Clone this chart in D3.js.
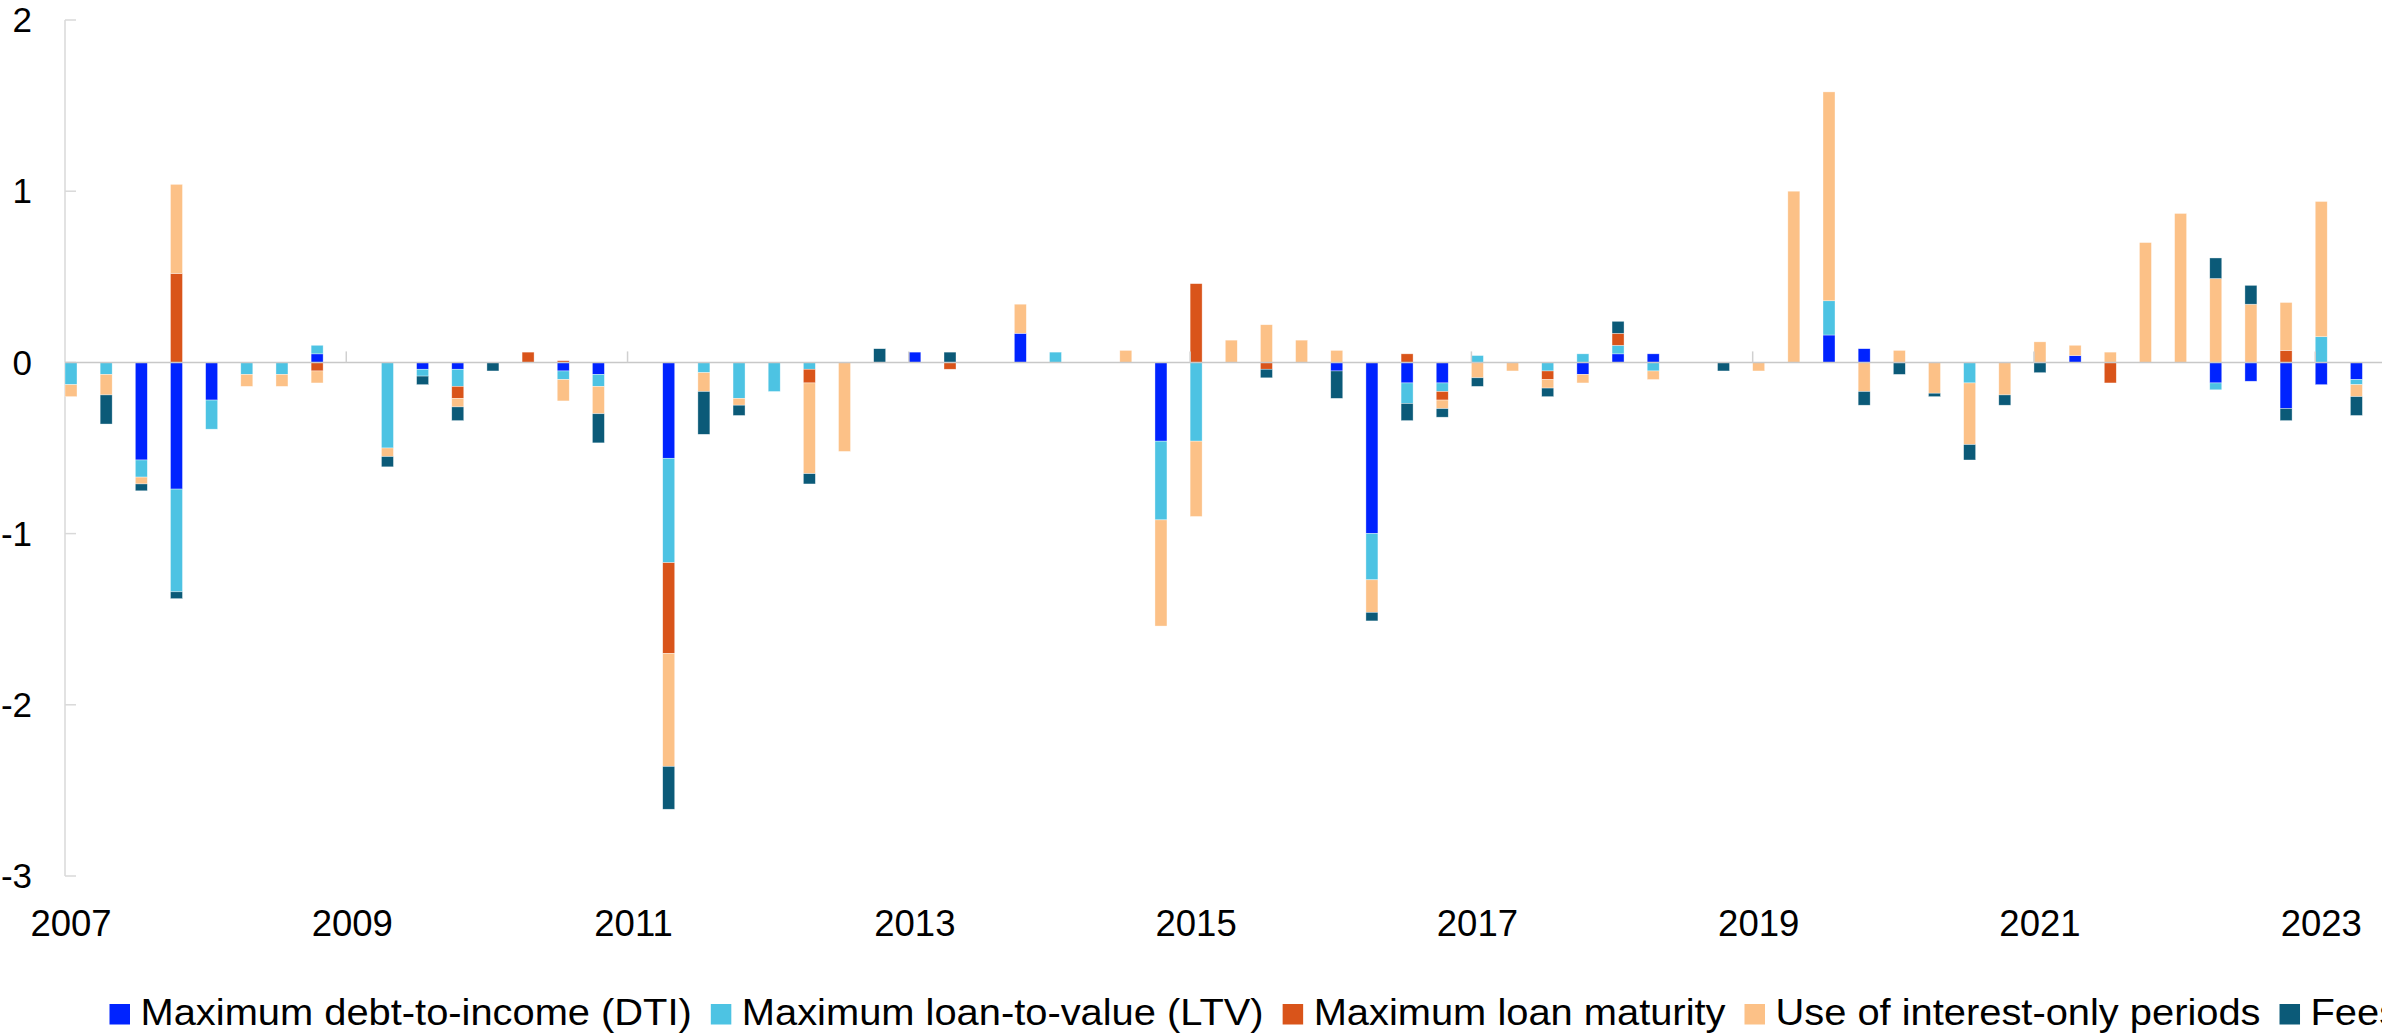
<!DOCTYPE html>
<html>
<head>
<meta charset="utf-8">
<script src="https://cdn.jsdelivr.net/npm/d3@7"></script>
<style>
  body { margin: 0; background: #fff; }
  svg { display: block; font-family: "Liberation Sans", Arial, sans-serif; }
</style>
</head>
<body>
<div id="chart-area"></div>
<script>
// Quarterly contributions, 2007Q1 - 2023Q2
const years = d3.range(2007, 2024);
const quarters = years.flatMap(y => [1, 2, 3, 4].map(q => `${y}Q${q}`)).slice(0, 66);

const yearLabels = ["2007", "2009", "2011", "2013", "2015", "2017", "2019", "2021", "2023"];

const seriesNames = [
  "Maximum debt-to-income (DTI)",
  "Maximum loan-to-value (LTV)",
  "Maximum loan maturity",
  "Use of interest-only periods",
  "Fees"
];

const dti = [
  0, 0, -0.57, -0.74, -0.22, 0, 0, 0.05,
  0, 0, -0.04, -0.04, 0, 0, -0.05, -0.07,
  0, -0.56, 0, 0, 0, 0, 0, 0,
  0.06, 0, 0, 0.17, 0, 0, 0, -0.46,
  0, 0, 0, 0, -0.05, -1.00, -0.12, -0.12,
  0, 0, 0, -0.07, 0.05, 0.05, 0, 0,
  0, 0, 0.16, 0.08, 0, 0, 0, 0,
  0, 0.04, 0, 0, 0, -0.12, -0.11, -0.27,
  -0.13, -0.10
];

const ltv = [
  -0.13, -0.07, -0.10, -0.60, -0.17, -0.07, -0.07, 0.05,
  0, -0.50, -0.04, -0.10, 0, 0, -0.05, -0.07,
  0, -0.61, -0.06, -0.21, -0.17, -0.04, 0, 0,
  0, 0, 0, 0, 0.06, 0, 0, -0.46,
  -0.46, 0, 0, 0, 0, -0.27, -0.12, -0.05,
  0.04, 0, -0.05, 0.05, 0.05, -0.05, 0, 0,
  0, 0, 0.20, 0, 0, 0, -0.12, 0,
  0, 0, 0, 0, 0, -0.04, 0, 0,
  0.15, -0.03
];

const maturity = [
  0, 0, 0, 0.52, 0, 0, 0, -0.05,
  0, 0, 0, -0.07, 0, 0.06, 0.01, 0,
  0, -0.53, 0, 0, 0, -0.08, 0, 0,
  0, -0.04, 0, 0, 0, 0, 0, 0,
  0.46, 0, -0.04, 0, 0, 0, 0.05, -0.05,
  0, 0, -0.05, 0, 0.07, 0, 0, 0,
  0, 0, 0, 0, 0, 0, 0, 0,
  0, 0, -0.12, 0, 0, 0, 0, 0.07,
  0, 0
];

const interestOnly = [
  -0.07, -0.12, -0.04, 0.52, 0, -0.07, -0.07, -0.07,
  0, -0.05, 0, -0.05, 0, 0, -0.125, -0.16,
  0, -0.66, -0.11, -0.04, 0, -0.53, -0.52, 0,
  0, 0, 0, 0.17, 0, 0, 0.07, -0.62,
  -0.44, 0.13, 0.22, 0.13, 0.07, -0.19, 0, -0.05,
  -0.09, -0.05, -0.05, -0.05, 0, -0.05, 0, 0,
  -0.05, 1.00, 1.22, -0.17, 0.07, -0.18, -0.36, -0.19,
  0.12, 0.06, 0.06, 0.70, 0.87, 0.49, 0.34, 0.28,
  0.79, -0.07
];

const fees = [
  0, -0.17, -0.04, -0.04, 0, 0, 0, 0,
  0, -0.06, -0.05, -0.08, -0.05, 0, 0, -0.17,
  0, -0.25, -0.25, -0.06, 0, -0.06, 0, 0.08,
  0, 0.06, 0, 0, 0, 0, 0, 0,
  0, 0, -0.05, 0, -0.16, -0.05, -0.10, -0.05,
  -0.05, 0, -0.05, 0, 0.07, 0, 0, -0.05,
  0, 0, 0, -0.08, -0.07, -0.02, -0.09, -0.06,
  -0.06, 0, 0, 0, 0, 0.12, 0.11, -0.07,
  0, -0.11
];

const colors = ["#0023ff", "#4dc3e3", "#d9541a", "#fcc187", "#0b5a78"];

function drawChart() {
  const width = 2382;
  const height = 1034;
  const left = 65;
  const step = 35.16;
  const barW = 12;

  const keys = ["dti", "ltv", "maturity", "interestOnly", "fees"];
  const rows = quarters.map((q, i) => ({
    quarter: q,
    dti: dti[i],
    ltv: ltv[i],
    maturity: maturity[i],
    interestOnly: interestOnly[i],
    fees: fees[i]
  }));

  const stacked = d3.stack()
    .keys(keys)
    .offset(d3.stackOffsetDiverging)(rows);

  const x = d3.scaleBand()
    .domain(quarters)
    .range([left, left + quarters.length * step])
    .padding(0);

  const y = d3.scaleLinear()
    .domain([-3, 2])
    .range([876, 20]);

  const color = d3.scaleOrdinal().domain(keys).range(colors);

  const svg = d3.select("#chart-area")
    .append("svg")
    .attr("width", width)
    .attr("height", height);

  // y axis line + inward ticks
  svg.append("line")
    .attr("x1", left).attr("x2", left)
    .attr("y1", y(2)).attr("y2", y(-3))
    .attr("stroke", "#d9d9d9")
    .attr("stroke-width", 1.5);

  const yTicks = y.ticks(5);

  svg.append("g")
    .selectAll("line")
    .data(yTicks)
    .join("line")
    .attr("x1", left).attr("x2", left + 11)
    .attr("y1", d => y(d)).attr("y2", d => y(d))
    .attr("stroke", "#d9d9d9")
    .attr("stroke-width", 1.5);

  svg.append("g")
    .selectAll("text")
    .data(yTicks)
    .join("text")
    .attr("x", 32)
    .attr("y", d => y(d))
    .attr("dy", "0.35em")
    .attr("text-anchor", "end")
    .attr("font-size", 35)
    .attr("fill", "#000")
    .text(d => d);

  // bars
  svg.append("g")
    .selectAll("g")
    .data(stacked)
    .join("g")
    .attr("fill", d => color(d.key))
    .selectAll("rect")
    .data(d => d.filter(p => p[1] !== p[0]))
    .join("rect")
    .attr("x", d => x(d.data.quarter))
    .attr("width", barW)
    .attr("y", d => y(Math.max(d[0], d[1])))
    .attr("height", d => Math.abs(y(d[0]) - y(d[1])))
    .attr("stroke", "#fff")
    .attr("stroke-width", 0.6)
    .attr("stroke-opacity", 0.6);

  // zero line and year ticks
  svg.append("line")
    .attr("x1", left).attr("x2", width)
    .attr("y1", y(0)).attr("y2", y(0))
    .attr("stroke", "#c8c8c8")
    .attr("stroke-width", 1.5);

  const yearQuarters = yearLabels.map(yr => `${yr}Q1`);

  svg.append("g")
    .selectAll("line")
    .data(yearQuarters.slice(1))
    .join("line")
    .attr("x1", d => x(d)).attr("x2", d => x(d))
    .attr("y1", y(0)).attr("y2", y(0) - 11)
    .attr("stroke", "#d0d0d0")
    .attr("stroke-width", 1.5);

  svg.append("g")
    .selectAll("text")
    .data(yearLabels)
    .join("text")
    .attr("x", d => x(`${d}Q1`) + barW / 2)
    .attr("y", 935.5)
    .attr("text-anchor", "middle")
    .attr("font-size", 36.5)
    .attr("fill", "#000")
    .text(d => d);

  // legend, laid out left to right (runs off the right edge like the original)
  // text is a touch wider than plain Arial in the original, hence the x-stretch
  const stretch = 1.107;
  const legend = svg.append("g").attr("font-size", 36);
  let lx = 109.5;
  seriesNames.forEach((name, i) => {
    legend.append("rect")
      .attr("x", lx)
      .attr("y", 1004)
      .attr("width", 20.5)
      .attr("height", 20.5)
      .attr("fill", colors[i]);
    const tx = lx + 31;
    const t = legend.append("text")
      .attr("x", 0)
      .attr("y", 1024.7)
      .attr("transform", `translate(${tx},0) scale(${stretch},1)`)
      .attr("fill", "#000")
      .text(name);
    lx = tx + t.node().getComputedTextLength() * stretch + 19;
  });
}

drawChart();
</script>
</body>
</html>
